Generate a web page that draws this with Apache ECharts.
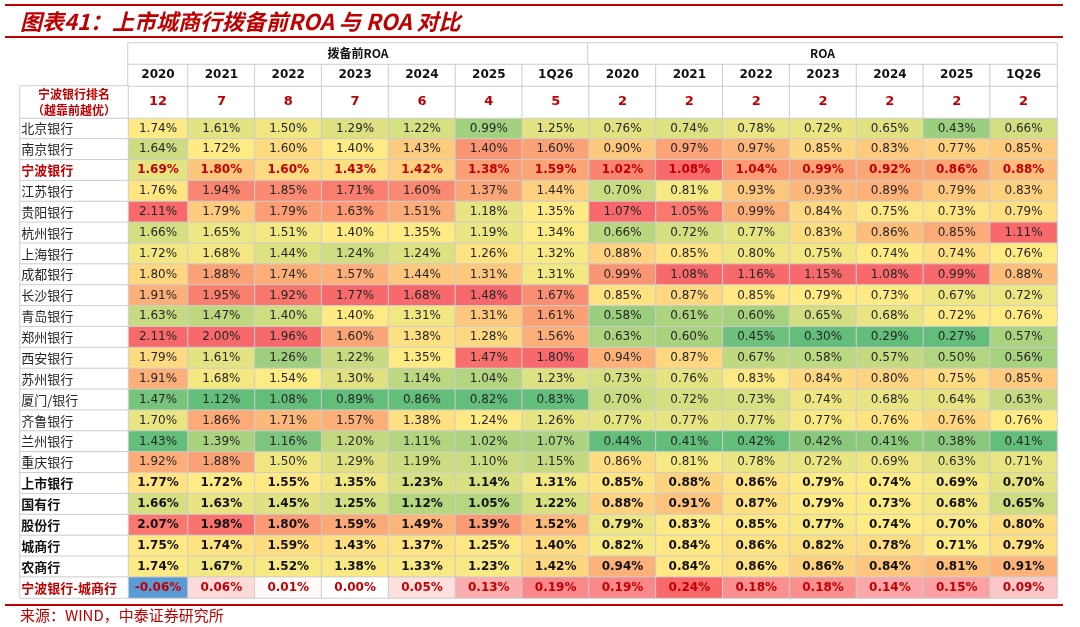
<!DOCTYPE html>
<html>
<head>
<meta charset="utf-8">
<script src="https://cdn.jsdelivr.net/npm/echarts@6/dist/echarts.min.js"></script>
<style>
html, body { margin: 0; padding: 0; background: #fff; }
#main { width: 1080px; height: 627px; }
</style>
</head>
<body>
<div id="main"></div>
<script>
var banks = ['北京银行', '南京银行', '宁波银行', '江苏银行', '贵阳银行', '杭州银行', '上海银行', '成都银行',
    '长沙银行', '青岛银行', '郑州银行', '西安银行', '苏州银行', '厦门/银行', '齐鲁银行', '兰州银行', '重庆银行',
    '上市银行', '国有行', '股份行', '城商行', '农商行', '宁波银行-城商行'];
var groups = ['拨备前ROA', 'ROA'];
var periods = ['2020', '2021', '2022', '2023', '2024', '2025', '1Q26'];
var rankPpop = [12, 7, 8, 7, 6, 4, 5];
var rankRoa = [2, 2, 2, 2, 2, 2, 2];

// 拨备前ROA (%), one row per bank
var ppopRoa = [
    [1.74, 1.61, 1.50, 1.29, 1.22, 0.99, 1.25],
    [1.64, 1.72, 1.60, 1.40, 1.43, 1.40, 1.60],
    [1.69, 1.80, 1.60, 1.43, 1.42, 1.38, 1.59],
    [1.76, 1.94, 1.85, 1.71, 1.60, 1.37, 1.44],
    [2.11, 1.79, 1.79, 1.63, 1.51, 1.18, 1.35],
    [1.66, 1.65, 1.51, 1.40, 1.35, 1.19, 1.34],
    [1.72, 1.68, 1.44, 1.24, 1.24, 1.26, 1.32],
    [1.80, 1.88, 1.74, 1.57, 1.44, 1.31, 1.31],
    [1.91, 1.95, 1.92, 1.77, 1.68, 1.48, 1.67],
    [1.63, 1.47, 1.40, 1.40, 1.31, 1.31, 1.61],
    [2.11, 2.00, 1.96, 1.60, 1.38, 1.28, 1.56],
    [1.79, 1.61, 1.26, 1.22, 1.35, 1.47, 1.80],
    [1.91, 1.68, 1.54, 1.30, 1.14, 1.04, 1.23],
    [1.47, 1.12, 1.08, 0.89, 0.86, 0.82, 0.83],
    [1.70, 1.86, 1.71, 1.57, 1.38, 1.24, 1.26],
    [1.43, 1.39, 1.16, 1.20, 1.11, 1.02, 1.07],
    [1.92, 1.88, 1.50, 1.29, 1.19, 1.10, 1.15],
    [1.77, 1.72, 1.55, 1.35, 1.23, 1.14, 1.31],
    [1.66, 1.63, 1.45, 1.25, 1.12, 1.05, 1.22],
    [2.07, 1.98, 1.80, 1.59, 1.49, 1.39, 1.52],
    [1.75, 1.74, 1.59, 1.43, 1.37, 1.25, 1.40],
    [1.74, 1.67, 1.52, 1.38, 1.33, 1.23, 1.42],
    [-0.06, 0.06, 0.01, 0.00, 0.05, 0.13, 0.19]
];

// ROA (%)
var roa = [
    [0.76, 0.74, 0.78, 0.72, 0.65, 0.43, 0.66],
    [0.90, 0.97, 0.97, 0.85, 0.83, 0.77, 0.85],
    [1.02, 1.08, 1.04, 0.99, 0.92, 0.86, 0.88],
    [0.70, 0.81, 0.93, 0.93, 0.89, 0.79, 0.83],
    [1.07, 1.05, 0.99, 0.84, 0.75, 0.73, 0.79],
    [0.66, 0.72, 0.77, 0.83, 0.86, 0.85, 1.11],
    [0.88, 0.85, 0.80, 0.75, 0.74, 0.74, 0.76],
    [0.99, 1.08, 1.16, 1.15, 1.08, 0.99, 0.88],
    [0.85, 0.87, 0.85, 0.79, 0.73, 0.67, 0.72],
    [0.58, 0.61, 0.60, 0.65, 0.68, 0.72, 0.76],
    [0.63, 0.60, 0.45, 0.30, 0.29, 0.27, 0.57],
    [0.94, 0.87, 0.67, 0.58, 0.57, 0.50, 0.56],
    [0.73, 0.76, 0.83, 0.84, 0.80, 0.75, 0.85],
    [0.70, 0.72, 0.73, 0.74, 0.68, 0.64, 0.63],
    [0.77, 0.77, 0.77, 0.77, 0.76, 0.76, 0.76],
    [0.44, 0.41, 0.42, 0.42, 0.41, 0.38, 0.41],
    [0.86, 0.81, 0.78, 0.72, 0.69, 0.63, 0.71],
    [0.85, 0.88, 0.86, 0.79, 0.74, 0.69, 0.70],
    [0.88, 0.91, 0.87, 0.79, 0.73, 0.68, 0.65],
    [0.79, 0.83, 0.85, 0.77, 0.74, 0.70, 0.80],
    [0.82, 0.84, 0.86, 0.82, 0.78, 0.71, 0.79],
    [0.94, 0.84, 0.86, 0.86, 0.84, 0.81, 0.91],
    [0.19, 0.24, 0.18, 0.18, 0.14, 0.15, 0.09]
];

var RED = '#C00000';
var LINE = '#CDCDCD';
var NUM_FONT = '"DejaVu Sans", "Noto Sans CJK SC", sans-serif';
var CJK_FONT = '"Noto Sans CJK SC", sans-serif';

var nRows = banks.length;
var diffRow = nRows - 1;
var nCols = periods.length * 2;

function cell(r, c) {
    return c < periods.length ? ppopRoa[r][c] : roa[r][c - periods.length];
}

// excel-like 3 colour scale per column: min -> 0, median -> 0.5, max -> 1
function colScore(c, v) {
    var vals = [];
    for (var r = 0; r < diffRow; r++) vals.push(cell(r, c));
    vals.sort(function (a, b) { return a - b; });
    var min = vals[0], max = vals[vals.length - 1];
    var h = vals.length / 2;
    var med = vals.length % 2 ? vals[Math.floor(h)] : (vals[h - 1] + vals[h]) / 2;
    if (v <= med) return med === min ? 0.5 : 0.5 * (v - min) / (med - min);
    return 0.5 + 0.5 * (v - med) / (max - med);
}

// 宁波银行-城商行 row: negative blue, zero white, max red
function diffScore(v) {
    var max = 0;
    for (var c = 0; c < nCols; c++) max = Math.max(max, cell(diffRow, c));
    return v < 0 ? 0 : 0.5 + 0.5 * v / max;
}

function rowStyle(r) {
    if (r === 2 || r === diffRow) return { color: RED, fontWeight: 'bold' };
    if (r >= 17) return { color: '#111', fontWeight: 'bold' };
    return { color: '#262626', fontWeight: 'normal' };
}

function idx(n) {
    var a = [];
    for (var i = 0; i < n; i++) a.push(i);
    return a;
}

// grids: the first year column is narrower than the rest, so each band is split in two
var grids = [], xAxes = [], yAxes = [];
function addGrid(left, top, width, height, nc, nr) {
    var g = grids.length;
    grids.push({ left: left, top: top, width: width, height: height });
    xAxes.push({ type: 'category', gridIndex: g, data: idx(nc), show: false });
    yAxes.push({ type: 'category', gridIndex: g, data: idx(nr), inverse: true, show: false });
    return g;
}
// column bands: [left, width, first column, column count]
var colBands = [[128, 60, 0, 1], [188, 869, 1, nCols - 1]];

function heat(g, data, label, color) {
    var s = {
        type: 'heatmap',
        xAxisIndex: g,
        yAxisIndex: g,
        data: data,
        silent: true,
        progressive: 0,
        itemStyle: { borderColor: LINE, borderWidth: 1 },
        emphasis: { disabled: true },
        label: Object.assign({ show: true, fontFamily: NUM_FONT, fontSize: 12 }, label)
    };
    if (color) s.itemStyle.color = color;
    return s;
}

var pctLabel = { formatter: function (p) { return p.value[2].toFixed(2) + '%'; } };
var ranks = rankPpop.concat(rankRoa);
var years = periods.concat(periods);

var series = [], mainIdx = [], diffIdx = [];
colBands.forEach(function (b) {
    var gData = addGrid(b[0], 118, b[1], 480, b[3], nRows);
    var gRank = addGrid(b[0], 86, b[1], 32, b[3], 1);
    var gYear = addGrid(b[0], 64, b[1], 22, b[3], 1);
    var mainData = [], diffData = [], rankData = [], yearData = [];
    for (var k = 0; k < b[3]; k++) {
        var c = b[2] + k;
        for (var r = 0; r < nRows; r++) {
            var v = cell(r, c);
            if (r === diffRow) {
                diffData.push({ value: [k, r, v, diffScore(v)], label: rowStyle(r) });
            } else {
                mainData.push({ value: [k, r, v, colScore(c, v)], label: rowStyle(r) });
            }
        }
        rankData.push([k, 0, ranks[c]]);
        yearData.push([k, 0, c]);
    }
    mainIdx.push(series.length);
    series.push(heat(gData, mainData, pctLabel));
    diffIdx.push(series.length);
    series.push(heat(gData, diffData, pctLabel));
    series.push(heat(gRank, rankData, { fontSize: 13, fontWeight: 'bold', color: RED,
        formatter: function (p) { return p.value[2]; } }, '#fff'));
    series.push(heat(gYear, yearData, { fontSize: 12, fontWeight: 'bold', color: '#111',
        formatter: function (p) { return years[p.value[2]]; } }, '#fff'));
});

// bank names column
var nameData = [];
for (var r = 0; r < nRows; r++) nameData.push({ value: [0, r, 0], label: rowStyle(r) });
series.push(heat(addGrid(20, 118, 108, 480, 1, nRows), nameData, {
    fontFamily: CJK_FONT, fontSize: 13, position: 'insideLeft', distance: 2,
    formatter: function (p) { return banks[p.value[1]]; }
}, '#fff'));

// rank label cell
series.push(heat(addGrid(20, 86, 108, 32, 1, 1), [[0, 0, 0]], {
    fontFamily: CJK_FONT, fontSize: 12, fontWeight: 'bold', color: RED, lineHeight: 16,
    formatter: '宁波银行排名\n（越靠前越优）'
}, '#fff'));

// group header
[[128, 460, 0], [588, 469, 1]].forEach(function (b) {
    series.push(heat(addGrid(b[0], 43, b[1], 21, 1, 1), [[0, 0, b[2]]], {
        fontFamily: CJK_FONT, fontSize: 12, fontWeight: 'bold', color: '#111',
        formatter: function (p) { return groups[p.value[2]]; }
    }, '#fff'));
});

var option = {
    backgroundColor: '#fff',
    animation: false,
    grid: grids,
    xAxis: xAxes,
    yAxis: yAxes,
    visualMap: [
        { show: false, seriesIndex: mainIdx, dimension: 3, min: 0, max: 1,
          inRange: { color: ['#63BE7B', '#FFEB84', '#F8696B'] } },
        { show: false, seriesIndex: diffIdx, dimension: 3, min: 0, max: 1,
          inRange: { color: ['#5B9BD5', '#FFFFFF', '#F8696B'] } }
    ],
    series: series,
    graphic: [
        { type: 'line', shape: { x1: 5, y1: 5, x2: 1063, y2: 5 }, style: { stroke: RED, lineWidth: 2 } },
        { type: 'text', x: 20, y: 22, style: {
            text: '图表41：上市城商行拨备前ROA 与 ROA 对比', fill: RED,
            fontFamily: CJK_FONT, fontSize: 22, fontWeight: 'bold', fontStyle: 'italic', verticalAlign: 'middle' } },
        { type: 'line', shape: { x1: 5, y1: 37, x2: 1063, y2: 37 }, style: { stroke: RED, lineWidth: 2 } },
        { type: 'line', shape: { x1: 5, y1: 605, x2: 1063, y2: 605 }, style: { stroke: RED, lineWidth: 2 } },
        { type: 'text', x: 20, y: 615, style: {
            text: '来源：WIND，中泰证券研究所', fill: RED,
            fontFamily: CJK_FONT, fontSize: 15, verticalAlign: 'middle' } }
    ]
};

var chart = echarts.init(document.getElementById('main'));
chart.setOption(option);
</script>
</body>
</html>
